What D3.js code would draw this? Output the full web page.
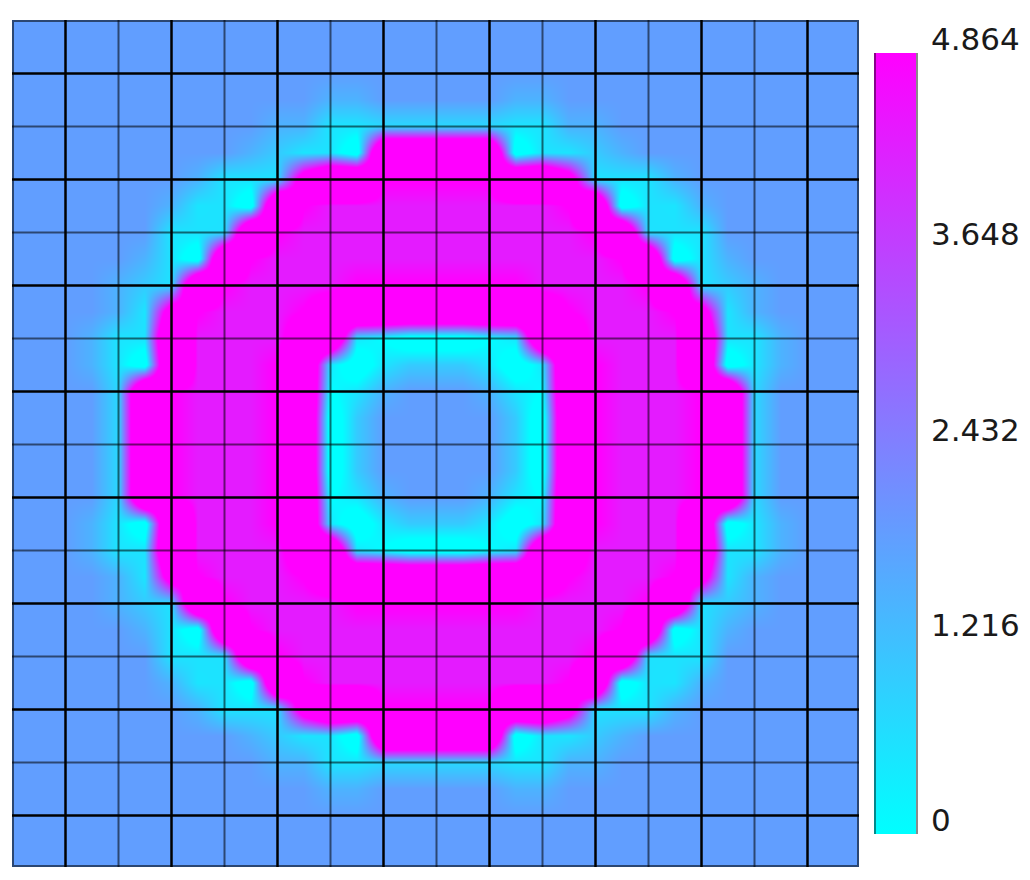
<!DOCTYPE html>
<html>
<head>
<meta charset="utf-8">
<script src="https://cdn.jsdelivr.net/npm/d3@7"></script>
<style>
  body { margin: 0; background: #fff; }
  svg { display: block; }
</style>
</head>
<body>
<svg id="chart" width="1030" height="880"></svg>
<script>
// value of each node code
var codeValues = {b: 1.85, a: 1.45, l: 1.0, e: 0.75, d: 0.55, k: 0.5, c: 0, z: -0.8, m: 4.35, p: 4.95, h: 6.5, H: 9.5};

// nodal field, 33 x 33 nodes (cell corners and cell centres of the 16 x 16 mesh)
var nodeRows = [
  "bbbbbbbbbbbbbbbbbbbbbbbbbbbbbbbbb",
  "bbbbbbbbbbbbbbbbbbbbbbbbbbbbbbbbb",
  "bbbbbbbbbbbbbbbbbbbbbbbbbbbbbbbbb",
  "bbbbbbbbbbbbaabbbbbaabbbbbbbbbbbb",
  "bbbbbbbbbbaakkeeeeekkaabbbbbbbbbb",
  "bbbbbbbbbalkdzHHHHHzdklabbbbbbbbb",
  "bbbbbbbakddhHHpppppHHhddkabbbbbbb",
  "bbbbbbakdzHpmmmmmmmmmpHzdkabbbbbb",
  "bbbbbbkddHpmmmmmmmmmmmpHddkbbbbbb",
  "bbbbbadzHpmmmmmmmmmmmmmpHzdabbbbb",
  "bbbbaldHpmmmmpppppppmmmmpHdlabbbb",
  "bbbbakhpmmmphHHHHHHHhpmmmphkabbbb",
  "bbbakdHmmmmhHkczzzckHhmmmmHdkabbb",
  "bbbakzHmmmpHkzklllkzkHpmmmHzkabbb",
  "bbbbeHpmmmpHckabbbakcHpmmmpHebbbb",
  "bbbbeHpmmmpHzlbbbbblzHpmmmpHebbbb",
  "bbbbeHpmmmpHzlbbbbblzHpmmmpHebbbb",
  "bbbbeHpmmmpHzlbbbbblzHpmmmpHebbbb",
  "bbbbeHpmmmpHckabbbakcHpmmmpHebbbb",
  "bbbakzHmmmpHkzklllkzkHpmmmHzkabbb",
  "bbbakdHmmmmhHkczzzckHhmmmmHdkabbb",
  "bbbbakhpmmmphHHHHHHHhpmmmphkabbbb",
  "bbbbaldHpmmmmpppppppmmmmpHdlabbbb",
  "bbbbbadzHpmmmmmmmmmmmmmpHzdabbbbb",
  "bbbbbbkddHpmmmmmmmmmmmpHddkbbbbbb",
  "bbbbbbakdzHpmmmmmmmmmpHzdkabbbbbb",
  "bbbbbbbakddhHHpppppHHhddkabbbbbbb",
  "bbbbbbbbbalkdzHHHHHzdklabbbbbbbbb",
  "bbbbbbbbbbaakkeeeeekkaabbbbbbbbbb",
  "bbbbbbbbbbbbaabbbbbaabbbbbbbbbbbb",
  "bbbbbbbbbbbbbbbbbbbbbbbbbbbbbbbbb",
  "bbbbbbbbbbbbbbbbbbbbbbbbbbbbbbbbb",
  "bbbbbbbbbbbbbbbbbbbbbbbbbbbbbbbbb"
];

var colorTicks = [0, 1.216, 2.432, 3.648, 4.864];
var nCells = 16;

var svg = d3.select("#chart");
var grid = nodeRows.map(function(r) { return r.split("").map(function(ch) { return codeValues[ch]; }); });
var N = grid.length - 1;
var vmin = colorTicks[0], vmax = colorTicks[colorTicks.length - 1];

var x = d3.scaleLinear().domain([0, nCells]).range([12.5, 860.5]);
var y = d3.scaleLinear().domain([0, nCells]).range([20.5, 868.5]);
var color = d3.scaleLinear().domain([vmin, vmax]).range(["#00ffff", "#ff00ff"]).clamp(true);

// image area
var imgLeft = 12, imgTop = 20, imgRight = 859, imgBottom = 867;
var W = imgRight - imgLeft, H = imgBottom - imgTop;

// lookup table of colours
var lutSize = 1024, lut = [];
for (var q = 0; q < lutSize; q++) {
  lut.push(d3.rgb(color(vmin + (vmax - vmin) * q / (lutSize - 1))));
}

var canvas = document.createElement("canvas");
canvas.width = W; canvas.height = H;
var ctx = canvas.getContext("2d");
var img = ctx.createImageData(W, H);
for (var py = 0; py < H; py++) {
  var v = Math.max(0, Math.min(N, y.invert(imgTop + py + 0.5) * 2));
  var j0 = Math.min(Math.floor(v), N - 1), fy = v - j0;
  for (var px = 0; px < W; px++) {
    var u = Math.max(0, Math.min(N, x.invert(imgLeft + px + 0.5) * 2));
    var i0 = Math.min(Math.floor(u), N - 1), fx = u - i0;
    var val = (grid[j0][i0] * (1 - fx) + grid[j0][i0 + 1] * fx) * (1 - fy) +
              (grid[j0 + 1][i0] * (1 - fx) + grid[j0 + 1][i0 + 1] * fx) * fy;
    var t = Math.max(0, Math.min(1, (val - vmin) / (vmax - vmin)));
    var c = lut[Math.round(t * (lutSize - 1))];
    var o = (py * W + px) * 4;
    img.data[o] = c.r; img.data[o + 1] = c.g; img.data[o + 2] = c.b; img.data[o + 3] = 255;
  }
}
ctx.putImageData(img, 0, 0);

svg.append("image")
  .attr("x", imgLeft).attr("y", imgTop)
  .attr("width", W).attr("height", H)
  .attr("preserveAspectRatio", "none")
  .attr("href", canvas.toDataURL());

// mesh lines: every second line black, the others translucent
var lines = d3.range(1, nCells);
var g = svg.append("g");
g.selectAll(".vl").data(lines).enter().append("line")
  .attr("x1", function(d) { return x(d); }).attr("x2", function(d) { return x(d); })
  .attr("y1", imgTop).attr("y2", imgBottom)
  .attr("stroke", function(d) { return d % 2 ? "#000" : "rgba(0,0,0,0.55)"; })
  .attr("stroke-width", function(d) { return d % 2 ? 2.5 : 2; });
g.selectAll(".hl").data(lines).enter().append("line")
  .attr("y1", function(d) { return y(d); }).attr("y2", function(d) { return y(d); })
  .attr("x1", imgLeft).attr("x2", imgRight)
  .attr("stroke", function(d) { return d % 2 ? "#000" : "rgba(0,0,0,0.55)"; })
  .attr("stroke-width", function(d) { return d % 2 ? 2.5 : 2; });
g.append("rect")
  .attr("x", imgLeft + 1).attr("y", imgTop + 1)
  .attr("width", W - 2).attr("height", H - 2)
  .attr("fill", "none").attr("stroke", "rgba(0,0,0,0.55)").attr("stroke-width", 2);

// colour bar
var cb = d3.scaleLinear().domain([vmin, vmax]).range([834, 53]);
var defs = svg.append("defs");
var grad = defs.append("linearGradient").attr("id", "cbar")
  .attr("x1", 0).attr("y1", 1).attr("x2", 0).attr("y2", 0);
grad.selectAll("stop").data(colorTicks).enter().append("stop")
  .attr("offset", function(d) { return (d - vmin) / (vmax - vmin); })
  .attr("stop-color", function(d) { return color(d); });

svg.append("rect")
  .attr("x", 874).attr("y", cb(vmax))
  .attr("width", 43).attr("height", cb(vmin) - cb(vmax))
  .attr("fill", "url(#cbar)");
svg.append("rect")
  .attr("x", 874).attr("y", cb(vmax))
  .attr("width", 2).attr("height", cb(vmin) - cb(vmax))
  .attr("fill", "rgba(0,0,0,0.45)");
svg.append("line")
  .attr("x1", 917).attr("x2", 917)
  .attr("y1", cb(vmax)).attr("y2", cb(vmin))
  .attr("stroke", "#8a8a8a").attr("stroke-width", 2);

svg.selectAll(".tick").data(colorTicks).enter().append("text")
  .attr("x", 931)
  .attr("y", function(d) { return cb(d) - 3; })
  .attr("font-family", "DejaVu Sans, sans-serif")
  .attr("font-size", 31)
  .attr("fill", "#1a1a1a")
  .text(function(d) { return d === 0 ? "0" : d3.format(".3f")(d); });
</script>
</body>
</html>
